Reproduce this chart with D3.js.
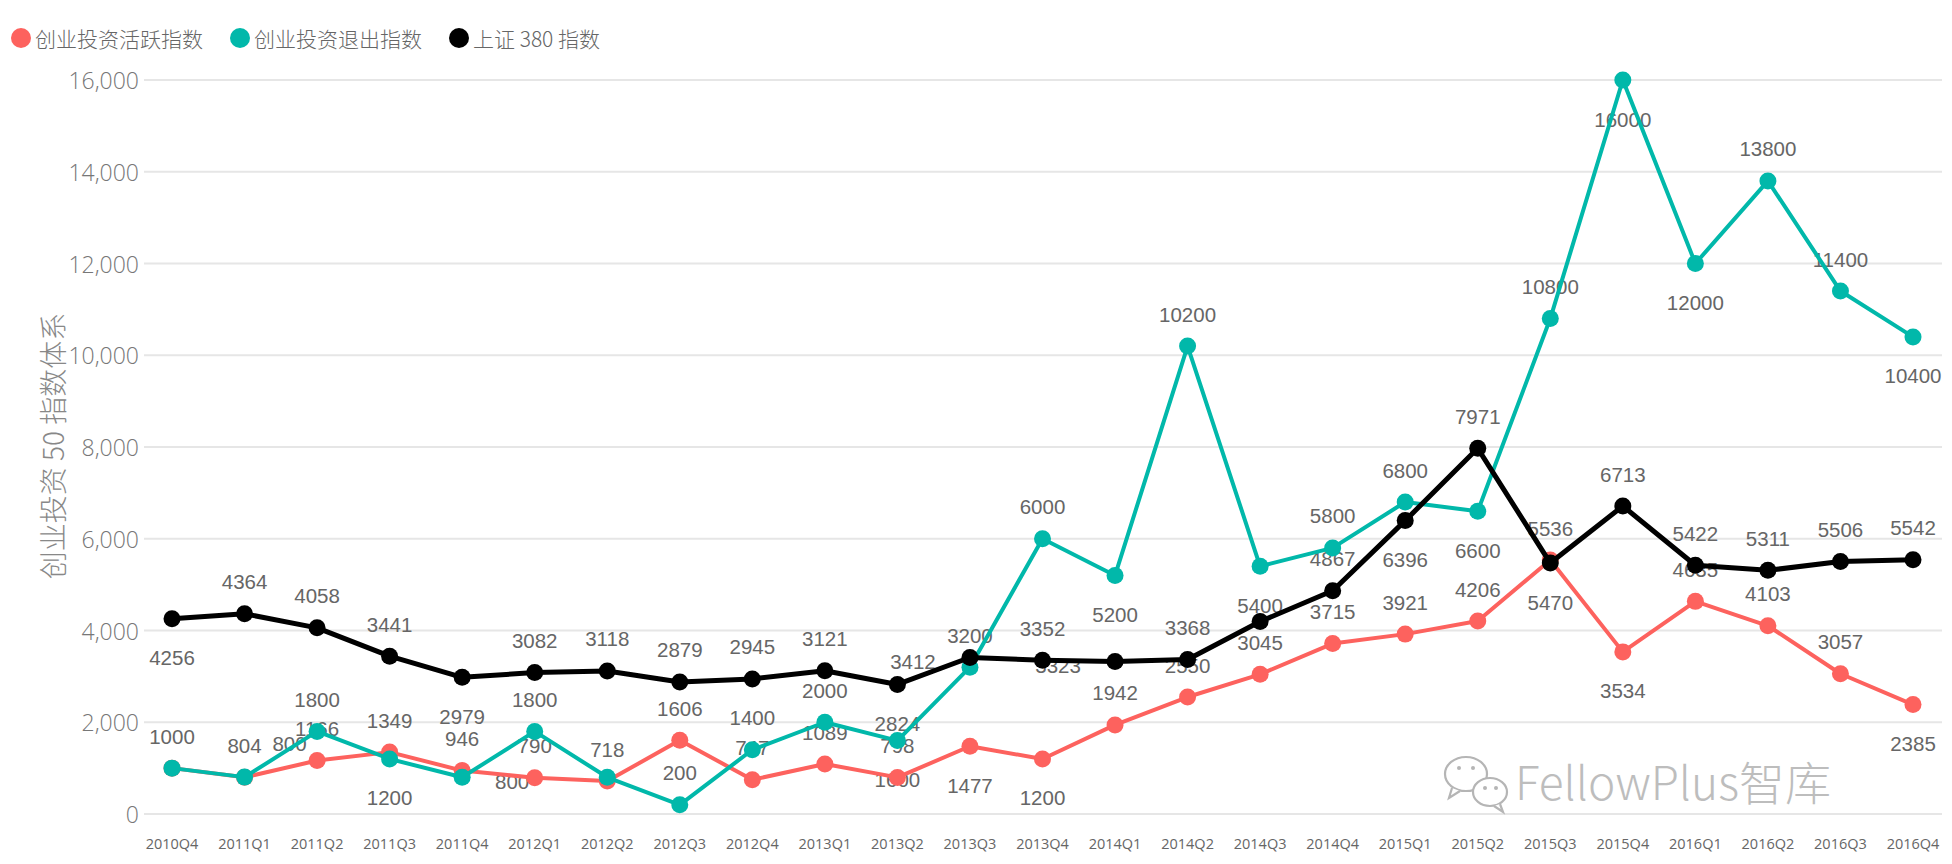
<!DOCTYPE html>
<html>
<head>
<meta charset="utf-8">
<title>创业投资指数</title>
<script src="https://d3js.org/d3.v7.min.js"></script>
<style>
  body, html { margin: 0; padding: 0; background: #fff; }
  svg { display: block; }
  .tick-y { font: 300 23px "Open Sans", "Noto Sans", sans-serif; fill: #777; }
  .tick-x { font: 14.5px "Open Sans", "Noto Sans", sans-serif; fill: #666; }
  .lbl { font: 20.5px "Liberation Sans", Arial, sans-serif; fill: #666; }
  .legend text { font: 300 21px "Noto Sans CJK SC", sans-serif; fill: #666; }
</style>
</head>
<body>
<svg width="1952" height="864"></svg>
<script>
  // quarters on the x axis
  const quarters = ["2010Q4","2011Q1","2011Q2","2011Q3","2011Q4","2012Q1","2012Q2","2012Q3","2012Q4",
    "2013Q1","2013Q2","2013Q3","2013Q4","2014Q1","2014Q2","2014Q3","2014Q4","2015Q1","2015Q2","2015Q3",
    "2015Q4","2016Q1","2016Q2","2016Q3","2016Q4"];

  // 创业投资活跃指数
  const activeVals = [1000, 800, 1166, 1349, 946, 790, 718, 1606, 747, 1089, 798, 1477, 1200, 1942,
    2550, 3045, 3715, 3921, 4206, 5536, 3534, 4635, 4103, 3057, 2385];
  // 创业投资退出指数
  const exitVals = [1000, 804, 1800, 1200, 800, 1800, 800, 200, 1400, 2000, 1600, 3200, 6000, 5200,
    10200, 5400, 5800, 6800, 6600, 10800, 16000, 12000, 13800, 11400, 10400];
  // 上证 380 指数
  const sseVals = [4256, 4364, 4058, 3441, 2979, 3082, 3118, 2879, 2945, 3121, 2824, 3412, 3352, 3323,
    3368, 4195, 4867, 6396, 7971, 5470, 6713, 5422, 5311, 5506, 5542];

  // label texts as printed (null = hidden)
  const activeLabels = activeVals.map((v, i) => i === 0 ? null : String(v));
  const exitLabels = exitVals.map((v, i) => i === 6 ? null : String(v));
  const sseLabels = sseVals.map((v, i) => i === 15 ? null : String(v));

  const yTicks = [0, 2000, 4000, 6000, 8000, 10000, 12000, 14000, 16000];

  // label placement codes: a above, b below, l left, r right, ar above-right
  const activePos = "a ar a a a a a a a a a b b a a a a a a a b a a a b".split(" ");
  const exitPos   = "a a a b r a a a a a b a a b a b a a b a b b a a b".split(" ");
  const ssePos    = "b a a a b a a a a a b l a l a a a b a b a a a a a".split(" ");

  const series = [
    { name: "创业投资活跃指数", color: "#FD625E", vals: activeVals, labels: activeLabels, pos: activePos, w: 4 },
    { name: "创业投资退出指数", color: "#01B8AA", vals: exitVals, labels: exitLabels, pos: exitPos, w: 4 },
    { name: "上证 380 指数", color: "#000000", vals: sseVals, labels: sseLabels, pos: ssePos, w: 5 }
  ];

  const svg = d3.select("svg");
  const x = d3.scalePoint().domain(quarters).range([172, 1913]);
  const y = d3.scaleLinear().domain([0, 16000]).range([814, 80]);

  // gridlines
  svg.append("g").selectAll("line")
    .data(yTicks).enter().append("line")
    .attr("x1", 144).attr("x2", 1942)
    .attr("y1", d => y(d)).attr("y2", d => y(d))
    .attr("stroke", "#e6e6e6").attr("stroke-width", 2);

  svg.append("g").selectAll("text")
    .data(yTicks).enter().append("text")
    .attr("class", "tick-y")
    .attr("x", 139).attr("y", d => y(d))
    .attr("text-anchor", "end").attr("dominant-baseline", "central")
    .text(d => d3.format(",")(d));

  svg.append("g").selectAll("text")
    .data(quarters).enter().append("text")
    .attr("class", "tick-x")
    .attr("x", d => x(d)).attr("y", 843)
    .attr("text-anchor", "middle").attr("dominant-baseline", "central")
    .text(d => d);

  // axis title
  svg.append("text")
    .attr("transform", "translate(52,446) rotate(-90)")
    .attr("text-anchor", "middle").attr("dominant-baseline", "central")
    .style("font", "300 28px 'Noto Sans CJK SC', sans-serif").style("fill", "#888")
    .text("创业投资 50 指数体系");

  // watermark
  const wm = svg.append("g").attr("fill", "#fff").attr("stroke", "#b5b5b5").attr("stroke-width", 2.2);
  wm.append("ellipse").attr("cx", 1466).attr("cy", 774).attr("rx", 21).attr("ry", 17);
  wm.append("path").attr("d", "M1452 788 L1449 798 L1460 791");
  wm.append("ellipse").attr("cx", 1490).attr("cy", 792).attr("rx", 17).attr("ry", 14);
  wm.append("path").attr("d", "M1500 804 L1503 812 L1494 806");
  [[1459, 768], [1473, 768], [1485, 788], [1496, 788]].forEach(p =>
    wm.append("circle").attr("cx", p[0]).attr("cy", p[1]).attr("r", 2).attr("fill", "#b5b5b5").attr("stroke", "none"));
  svg.append("text")
    .attr("x", 1515).attr("y", 800)
    .style("font", "300 46px 'Noto Sans CJK SC', sans-serif")
    .style("fill", "#bdbdbd")
    .text("FellowPlus智库");

  // data labels (drawn beneath the lines)
  const off = {
    a: [0, -32], b: [0, 39], l: [-57, 4], r: [50, 4], ar: [45, -34]
  };
  const lblG = svg.append("g");
  series.forEach(s => {
    s.vals.forEach((v, i) => {
      if (s.labels[i] == null) return;
      const o = off[s.pos[i]];
      lblG.append("text")
        .attr("class", "lbl")
        .attr("x", x(quarters[i]) + o[0])
        .attr("y", y(v) + o[1])
        .attr("text-anchor", "middle").attr("dominant-baseline", "central")
        .text(s.labels[i]);
    });
  });

  // lines and markers
  const line = d3.line().x((d, i) => x(quarters[i])).y(d => y(d));
  series.forEach(s => {
    svg.append("path")
      .attr("d", line(s.vals))
      .attr("fill", "none").attr("stroke", s.color)
      .attr("stroke-width", s.w).attr("stroke-linejoin", "round");
    svg.append("g").selectAll("circle")
      .data(s.vals).enter().append("circle")
      .attr("cx", (d, i) => x(quarters[i])).attr("cy", d => y(d))
      .attr("r", 8.5).attr("fill", s.color);
  });

  // legend
  const legendX = [21, 240, 459];
  const lg = svg.append("g").attr("class", "legend");
  series.forEach((s, i) => {
    lg.append("circle").attr("cx", legendX[i]).attr("cy", 38).attr("r", 10).attr("fill", s.color);
    lg.append("text").attr("x", legendX[i] + 14).attr("y", 38)
      .attr("dominant-baseline", "central").text(s.name);
  });
</script>
</body>
</html>
